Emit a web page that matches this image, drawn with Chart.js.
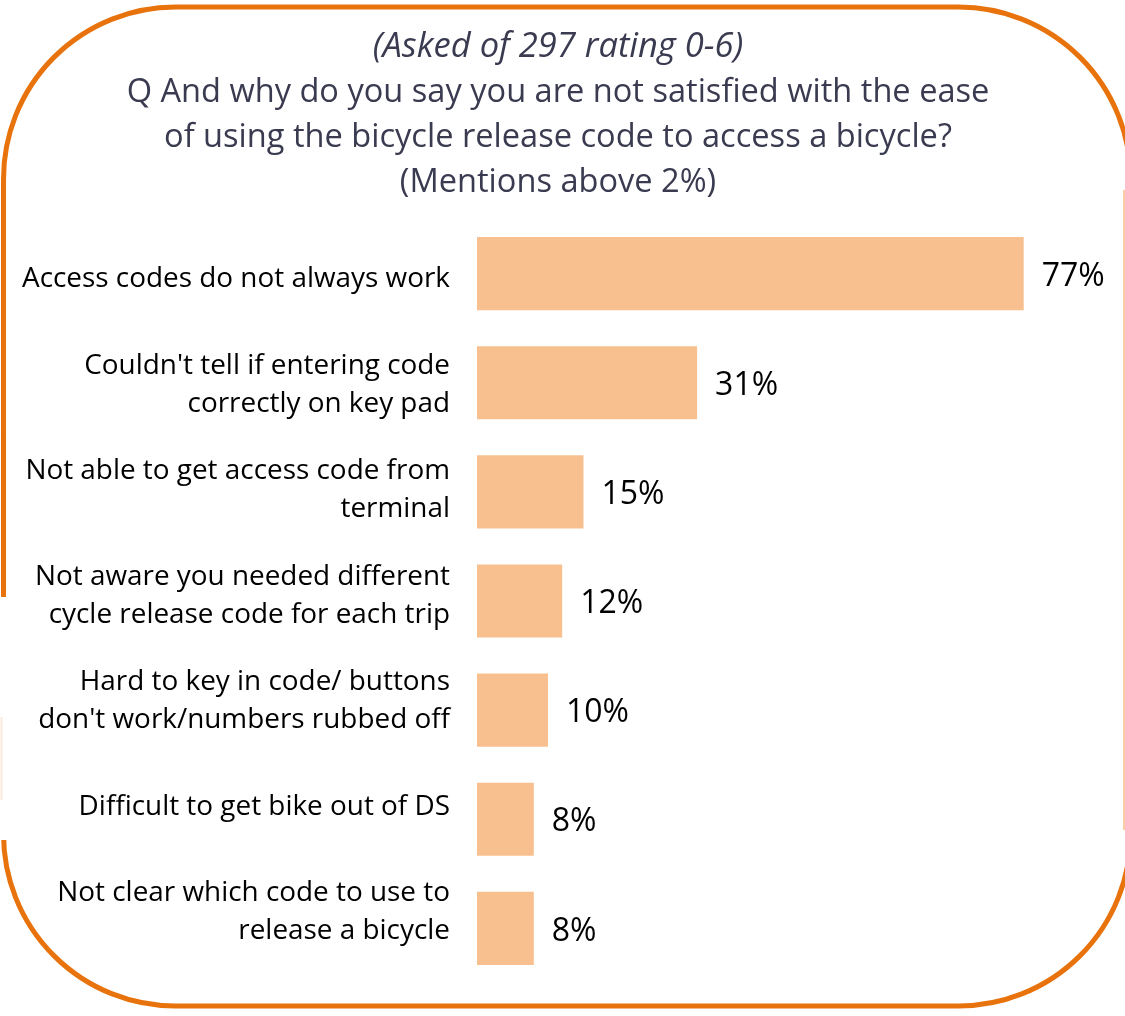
<!DOCTYPE html>
<html>
<head>
<meta charset="utf-8">
<script src="https://cdn.jsdelivr.net/npm/chart.js@4.4.0/dist/chart.umd.min.js"></script>
<style>
    html, body { margin: 0; padding: 0; background: #fff; }
    #wrap { position: relative; width: 1125px; height: 1016px; }
</style>
</head>
<body>
<div id="wrap"><canvas id="reasons"></canvas></div>
<script>
// Data
var categories = [
    "Access codes do not always work",
    "Couldn't tell if entering code|correctly on key pad",
    "Not able to get access code from|terminal",
    "Not aware you needed different|cycle release code for each trip",
    "Hard to key in code/ buttons|don't work/numbers rubbed off",
    "Difficult to get bike out of DS",
    "Not clear which code to use to|release a bicycle",
];
var values = [77, 31, 15, 12, 10, 8, 8];
var titleText = "(Asked of 297 rating 0-6)";
var subtitleLines = [
    "Q And why do you say you are not satisfied with the ease",
    "of using the bicycle release code to access a bicycle?",
    "(Mentions above 2%)",
];

var barColor = "#F9C08F";
var borderColor = "#E8720C";
var titleColor = "#3A3B50";
var fontFamily = "'Open Sans', 'Noto Sans', sans-serif";

// rounded orange frame behind the chart
var framePlugin = {
    id: "frame",
    beforeDraw: function (chart) {
        var ctx = chart.ctx;
        ctx.save();
        ctx.fillStyle = "#fff";
        ctx.fillRect(0, 0, chart.width, chart.height);
        ctx.strokeStyle = borderColor;
        ctx.lineWidth = 5;
        ctx.beginPath();
        ctx.roundRect(3.5, 7, 1127, 999, 172);
        ctx.stroke();
        // the frame is broken on the left side in the original
        ctx.fillStyle = "#fff";
        ctx.fillRect(0, 597, 10, 243);
        ctx.strokeStyle = "rgba(249, 192, 143, 0.35)";
        ctx.lineWidth = 2;
        ctx.beginPath();
        ctx.moveTo(1.5, 717);
        ctx.lineTo(1.5, 800);
        ctx.stroke();
        // faint right edge
        ctx.strokeStyle = "rgba(249, 192, 143, 0.8)";
        ctx.beginPath();
        ctx.moveTo(1124, 190);
        ctx.lineTo(1124, 830);
        ctx.stroke();
        ctx.restore();
    },
};

// category labels, placed like separate text boxes (they creep up a little per row)
var categoryLabels = {
    id: "categoryLabels",
    afterDatasetsDraw: function (chart) {
        var ctx = chart.ctx;
        var yScale = chart.scales.y;
        var x = chart.chartArea.left - 27;
        var lineH = 38;
        ctx.save();
        ctx.font = "27.9px " + fontFamily;
        ctx.fillStyle = "#000";
        ctx.textAlign = "right";
        ctx.textBaseline = "middle";
        categories.forEach(function (c, i) {
            var lines = c.split("|");
            var mid = yScale.getPixelForValue(i) + 5.5 - 3.6 * i;
            var top = mid - (lines.length - 1) * lineH / 2;
            lines.forEach(function (line, j) {
                ctx.fillText(line, x, top + j * lineH);
            });
        });
        ctx.restore();
    },
};

// percent labels at the end of each bar
var valueLabels = {
    id: "valueLabels",
    afterDatasetsDraw: function (chart) {
        var ctx = chart.ctx;
        var meta = chart.getDatasetMeta(0);
        ctx.save();
        ctx.font = "32px " + fontFamily;
        ctx.fillStyle = "#000";
        ctx.textAlign = "left";
        ctx.textBaseline = "middle";
        meta.data.forEach(function (bar, i) {
            ctx.fillText(values[i] + "%", bar.x + 18, bar.y + 3);
        });
        ctx.restore();
    },
};

var canvas = document.getElementById("reasons");
var chart = new Chart(canvas, {
    type: "bar",
    data: {
        labels: categories,
        datasets: [
            {
                data: values,
                backgroundColor: barColor,
                borderWidth: 0,
                categoryPercentage: 1,
                barPercentage: 0.67,
            },
        ],
    },
    options: {
        indexAxis: "y",
        responsive: true,
        maintainAspectRatio: false,
        animation: false,
        layout: { padding: { top: 0, right: 9, bottom: 33, left: 0 } },
        plugins: {
            legend: { display: false },
            tooltip: { enabled: false },
            title: {
                display: true,
                text: titleText,
                color: titleColor,
                font: { family: fontFamily, size: 34.5, style: "italic", weight: "normal", lineHeight: 45 / 34.5 },
                padding: { top: 25, bottom: 0 },
            },
            subtitle: {
                display: true,
                text: subtitleLines,
                color: titleColor,
                font: { family: fontFamily, size: 32.6, weight: "normal", lineHeight: 45 / 32.6 },
                padding: { top: 0, bottom: 14 },
            },
        },
        scales: {
            x: { display: false, min: 0, max: 90 },
            y: {
                grid: { display: false, drawTicks: false },
                border: { display: false },
                afterFit: function (scale) {
                    scale.width = 477;
                    scale.paddingTop = 0;
                    scale.paddingBottom = 0;
                },
                ticks: { display: false },
            },
        },
    },
    plugins: [framePlugin, categoryLabels, valueLabels],
});
</script>
</body>
</html>
